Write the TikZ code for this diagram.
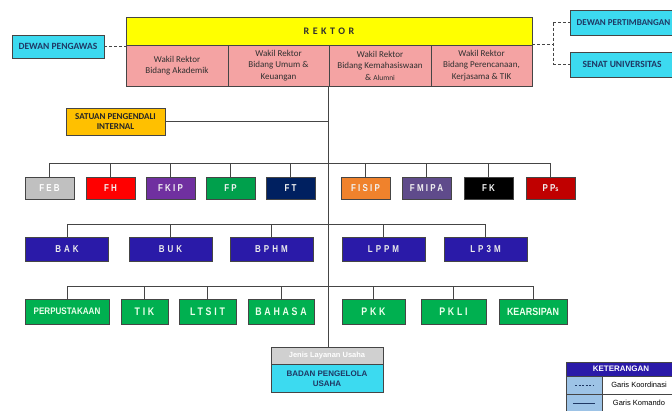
\documentclass[tikz,border=0pt]{standalone}
\usepackage{fontspec}
\setmainfont{Liberation Sans}
\newfontfamily\calfont{Carlito}
\newfontfamily\calsp[LetterSpace=35]{Carlito}
\newfontfamily\spA[LetterSpace=22,FakeStretch=0.8]{Liberation Sans}
\newfontfamily\spB[LetterSpace=30,FakeStretch=0.8]{Liberation Sans}
\newfontfamily\spC[LetterSpace=25,FakeStretch=0.8]{Liberation Sans}
\newfontfamily\narr[FakeStretch=0.85]{Liberation Sans}
\definecolor{lc}{HTML}{454545}
\definecolor{cYel}{HTML}{FFFF00}
\definecolor{cPink}{HTML}{F4A3A3}
\definecolor{cCyan}{HTML}{3CDAF0}
\definecolor{cOrg}{HTML}{FFC000}
\definecolor{cFEB}{HTML}{C0C0C0}
\definecolor{cFH}{HTML}{FF0000}
\definecolor{cFKIP}{HTML}{7030A0}
\definecolor{cFP}{HTML}{00A04C}
\definecolor{cFT}{HTML}{002060}
\definecolor{cFISIP}{HTML}{F0822C}
\definecolor{cFMIPA}{HTML}{5F4B8B}
\definecolor{cFK}{HTML}{000000}
\definecolor{cPPs}{HTML}{C00000}
\definecolor{cBlue}{HTML}{2A1AA8}
\definecolor{cGreen}{HTML}{00B050}
\definecolor{cGray}{HTML}{D0D0D0}
\definecolor{cLeg}{HTML}{9DC3E6}
\definecolor{cNavy}{HTML}{1F3864}
\definecolor{cTxt}{HTML}{303030}
\begin{document}
\begin{tikzpicture}[x=1pt,y=-1pt,
  box/.style={draw=lc, line width=0.7pt, inner sep=0pt, align=center},
  wr/.style={box, fill=cPink, minimum height=41, text=cTxt, font=\calfont\fontsize{9}{11.5}\selectfont},
  dew/.style={box, fill=cCyan, text=cNavy, font=\calfont\bfseries\fontsize{9.5}{11}\selectfont},
  fac/.style={box, minimum width=49, minimum height=22, text=white!90!gray, font=\spA\bfseries\fontsize{10}{11}\selectfont},
  bir/.style={box, fill=cBlue, minimum width=83, minimum height=24, text=white!85!gray, font=\spB\bfseries\fontsize{10}{11}\selectfont},
  upt/.style={box, fill=cGreen, minimum height=25, text=white!92!green, font=\spC\bfseries\fontsize{11}{12}\selectfont},
  cmd/.style={draw=lc, line width=0.8pt},
  coord/.style={draw=lc, line width=0.8pt, dash pattern=on 3pt off 2pt},
  leg/.style={box, font=\fontsize{7.5}{9}\selectfont}
]
\useasboundingbox (0,0) rectangle (672,410);
\clip (0,0) rectangle (672,410);
\fill[white] (0,0) rectangle (672,410);

% Rektor block
\node[box, fill=cYel, minimum width=406, minimum height=28, text=cTxt, font=\calsp\bfseries\fontsize{10}{11}\selectfont] (rek) at (329,31) {REKTOR};
\node[wr, minimum width=102] (wr1) at (177,65.5) {Wakil Rektor\\Bidang Akademik};
\node[wr, minimum width=101] (wr2) at (278.5,65.5) {Wakil Rektor\\Bidang Umum \&\\Keuangan};
\node[wr, minimum width=102] (wr3) at (380,65.5) {Wakil Rektor\\Bidang Kemahasiswaan\\\& {\fontsize{7.5}{9}\selectfont Alumni}};
\node[wr, minimum width=101] (wr4) at (481.5,65.5) {Wakil Rektor\\Bidang Perencanaan,\\Kerjasama \& TIK};

% Dewan
\node[dew, minimum width=92, minimum height=23] (dpg) at (58,46.5) {DEWAN PENGAWAS};
\node[dew, minimum width=107, minimum height=25, font=\calfont\bfseries\fontsize{9}{11}\selectfont] (dpt) at (623.5,22.5) {DEWAN PERTIMBANGAN};
\node[dew, minimum width=104, minimum height=25] (sen) at (622,64.5) {SENAT UNIVERSITAS};
\coordinate (dj) at (553,46);
\draw[coord] (dpg.east) -- (dpg.east -| wr1.north west);
\draw[coord] (wr4.north east) -- (wr4.north east -| dj);
\draw[coord] (dj |- dpt.west) -- (dj |- sen.west);
\draw[coord] (dj |- dpt.west) -- (dpt.west);
\draw[coord] (dj |- sen.west) -- (sen.west);

% SPI
\node[box, fill=cOrg, minimum width=99, minimum height=27, text=black!85, font=\calfont\bfseries\fontsize{9}{10}\selectfont] (spi) at (115.5,121.5) {SATUAN PENGENDALI\\INTERNAL};

% Faculties
\node[fac, fill=cFEB, text=white] (feb) at (49.5,188) {FEB};
\node[fac, fill=cFH] (fh) at (110.5,188) {FH};
\node[fac, fill=cFKIP] (fkip) at (170.5,188) {FKIP};
\node[fac, fill=cFP] (fp) at (230.5,188) {FP};
\node[fac, fill=cFT] (ft) at (290.5,188) {FT};
\node[fac, fill=cFISIP] (fisip) at (365.5,188) {FISIP};
\node[fac, fill=cFMIPA] (fmipa) at (426.5,188) {FMIPA};
\node[fac, fill=cFK] (fk) at (488.5,188) {FK};
\node[fac, fill=cPPs] (pps) at (550.5,188) {PP{\fontsize{7}{7}\selectfont s}};

% Biro / Lembaga
\node[bir] (bak) at (67,249) {BAK};
\node[bir] (buk) at (170.5,249) {BUK};
\node[bir] (bphm) at (271.5,249) {BPHM};
\node[bir] (lppm) at (383.5,249) {LPPM};
\node[bir] (lp3m) at (485.5,249) {LP3M};

% UPT
\node[upt, minimum width=84, font=\narr\bfseries\fontsize{9.5}{10}\selectfont] (perp) at (67,311.5) {PERPUSTAKAAN};
\node[upt, minimum width=47] (tik) at (144.5,311.5) {TIK};
\node[upt, minimum width=57] (ltsit) at (207.5,311.5) {LTSIT};
\node[upt, minimum width=66] (bhs) at (281,311.5) {BAHASA};
\node[upt, minimum width=63] (pkk) at (373.5,311.5) {PKK};
\node[upt, minimum width=65] (pkli) at (453.5,311.5) {PKLI};
\node[upt, minimum width=68, font=\narr\bfseries\fontsize{10.5}{11}\selectfont] (kear) at (533,311.5) {KEARSIPAN};

% Badan Pengelola Usaha
\node[box, fill=cGray, minimum width=112, minimum height=17, text=white, font=\bfseries\fontsize{7.5}{9}\selectfont] (bdh) at (327,355.5) {Jenis Layanan Usaha};
\node[box, fill=cCyan, minimum width=112, minimum height=28, text=cNavy, font=\bfseries\fontsize{8}{10}\selectfont, anchor=north] (bdn) at (bdh.south) {BADAN PENGELOLA\\USAHA};

% Command lines
\coordinate (trtop) at (wr3.south west);
\draw[cmd] (trtop) -- (trtop |- bdh.north);
\draw[cmd] (spi.east) -- (spi.east -| trtop);
\coordinate (r1) at (0,163);
\coordinate (r2) at (0,224);
\coordinate (r3) at (0,286);
\draw[cmd] (feb.north |- r1) -- (pps.north |- r1);
\foreach \n in {feb,fh,fkip,fp,ft,fisip,fmipa,fk,pps} \draw[cmd] (\n.north) -- (\n.north |- r1);
\draw[cmd] (bak.north |- r2) -- (lp3m.north |- r2);
\foreach \n in {bak,buk,bphm,lppm,lp3m} \draw[cmd] (\n.north) -- (\n.north |- r2);
\draw[cmd] (perp.north |- r3) -- (kear.north |- r3);
\foreach \n in {perp,tik,ltsit,bhs,pkk,pkli,kear} \draw[cmd] (\n.north) -- (\n.north |- r3);

% Legend
\node[leg, fill=cBlue, minimum width=110, minimum height=14, text=white, font=\bfseries\fontsize{8}{9}\selectfont] (kh) at (621,369) {KETERANGAN};
\node[leg, fill=cLeg, minimum width=36, minimum height=18] (l1a) at (584,385) {};
\node[leg, fill=white, minimum width=74, minimum height=18] (l1b) at (639,385) {Garis Koordinasi};
\node[leg, fill=cLeg, minimum width=36, minimum height=18] (l2a) at (584,403) {};
\node[leg, fill=white, minimum width=74, minimum height=18] (l2b) at (639,403) {Garis Komando};
\draw[draw=cNavy, line width=0.6pt, dash pattern=on 2pt off 1.5pt] ([xshift=-9pt]l1a.center) -- ([xshift=9pt]l1a.center);
\draw[draw=cNavy, line width=0.8pt] ([xshift=-11pt]l2a.center) -- ([xshift=11pt]l2a.center);
\end{tikzpicture}
\end{document}
